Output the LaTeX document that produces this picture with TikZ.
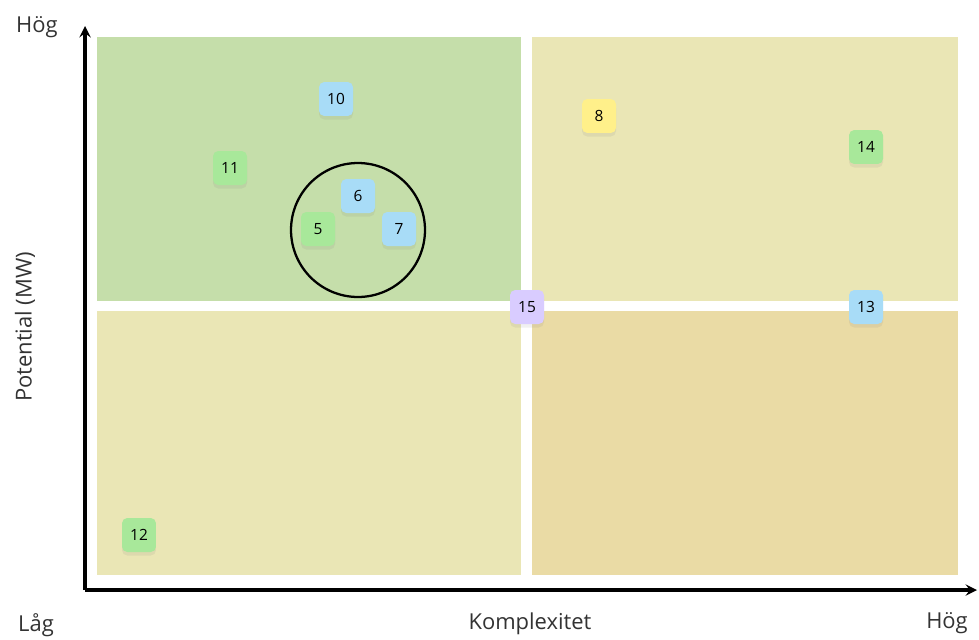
\documentclass[tikz,border=0pt]{standalone}
\usepackage{fontspec}
\setmainfont{Open Sans}
\usetikzlibrary{shadows}
\definecolor{qgreen}{HTML}{C5DEAA}
\definecolor{qyellow}{HTML}{EAE6B5}
\definecolor{qtan}{HTML}{EADBA5}
\definecolor{nblue}{HTML}{A8DCF7}
\definecolor{ngreen}{HTML}{A8E89A}
\definecolor{nyellow}{HTML}{FFF08A}
\definecolor{npurple}{HTML}{D9CCFF}
\tikzset{
  note/.style={rounded corners=3pt, minimum size=0.68cm, inner sep=0pt, font=\fontsize{8.8}{10}\selectfont,
    drop shadow={opacity=0.12, shadow xshift=0pt, shadow yshift=-2pt}},
  axislabel/.style={font=\fontsize{12.5}{14}\selectfont, text=black!80}
}
\begin{document}
\begin{tikzpicture}[x=0.02cm, y=-0.02cm, >=stealth]
\useasboundingbox (0,0) rectangle (979,639);

\fill[qgreen] (97,37) rectangle (521,301);
\fill[qyellow] (532,37) rectangle (958,301);
\fill[qyellow] (97,311) rectangle (521,575);
\fill[qtan] (532,311) rectangle (958,575);

\coordinate (origin) at (85,590);
\coordinate (ytop) at (85,26);
\coordinate (xend) at (977,590);
\draw[->, line width=1.8pt] (origin)--(ytop);
\draw[->, line width=1.8pt] (origin)--(xend);

\node[axislabel] (yhigh) at (37,27) {Hög};
\node[axislabel] (xlow) at (36,625) {Låg};
\node[axislabel] (xlabel) at (530,624) {Komplexitet};
\node[axislabel] (xhigh) at (947,623) {Hög};
\node[axislabel, rotate=90] (ylabel) at (25,327) {Potential (MW)};

\node[draw, circle, line width=1.3pt, minimum size=2.68cm] (group) at (358,230) {};

\node[note, fill=nblue] (n10) at (336,99) {10};
\node[note, fill=ngreen] (n11) at (230,168) {11};
\node[note, fill=nblue] (n6) at (358,196) {6};
\node[note, fill=ngreen] (n5) at (318,229) {5};
\node[note, fill=nblue] (n7) at (399,229) {7};
\node[note, fill=nyellow] (n8) at (599,116) {8};
\node[note, fill=ngreen] (n14) at (866,147) {14};
\node[note, fill=npurple] (n15) at (527,307) {15};
\node[note, fill=nblue] (n13) at (866,307) {13};
\node[note, fill=ngreen] (n12) at (139,535) {12};
\end{tikzpicture}
\end{document}
